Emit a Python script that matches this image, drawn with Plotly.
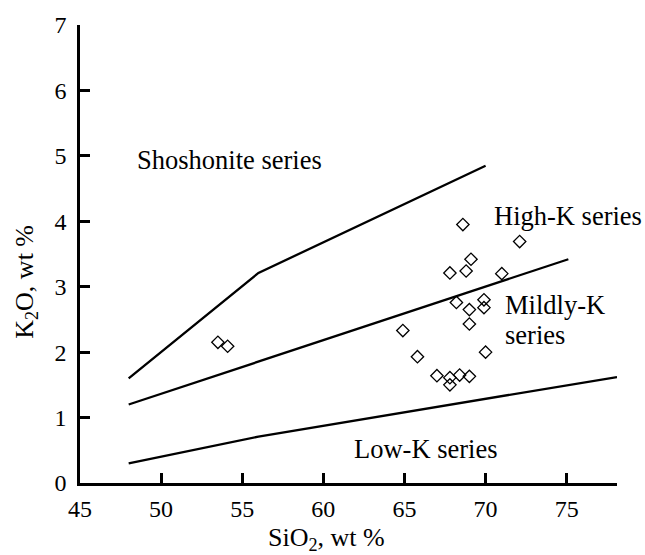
import plotly.graph_objects as go

# Sample data (SiO2, K2O wt %)
sio2 = [53.5, 54.1, 72.1, 69.1, 67.8, 68.8, 71.0, 68.2, 69.9, 69.9, 69.0, 69.0,
        64.9, 65.8, 70.0, 67.0, 67.8, 67.8, 68.4, 69.0, 68.6]
k2o = [2.15, 2.09, 3.69, 3.42, 3.21, 3.24, 3.20, 2.76, 2.80, 2.68, 2.65, 2.43,
       2.33, 1.93, 2.00, 1.64, 1.61, 1.50, 1.65, 1.63, 3.95]

# Boundary lines (Peccerillo & Taylor type)
shosh_x = [48, 56, 70]
shosh_y = [1.6, 3.21, 4.85]
highk_x = [48, 75.1]
highk_y = [1.2, 3.42]
lowk_x = [48, 56, 78.1]
lowk_y = [0.3, 0.71, 1.62]

# Field labels
label_text = ["Shoshonite series", "High-K series", "Mildly-K", "series", "Low-K series"]
label_x = [48.4, 70.4, 71.05, 71.05, 61.75]
label_y = [4.93, 4.08, 2.725, 2.265, 0.52]

x_ticks = [45, 50, 55, 60, 65, 70, 75]
y_ticks = [0, 1, 2, 3, 4, 5, 6, 7]

FONT = "Liberation Serif, serif"

fig = go.Figure()
for xs, ys in [(shosh_x, shosh_y), (highk_x, highk_y), (lowk_x, lowk_y)]:
    fig.add_trace(go.Scatter(x=xs, y=ys, mode="lines",
                             line=dict(color="black", width=2.3),
                             showlegend=False, hoverinfo="skip"))
fig.add_trace(go.Scatter(x=sio2, y=k2o, mode="markers",
                         marker=dict(symbol="diamond-open", size=9.5, color="black",
                                     line=dict(color="black", width=1.3)),
                         showlegend=False))

for t, x, y in zip(label_text, label_x, label_y):
    fig.add_annotation(x=x, y=y, text=t, showarrow=False, xanchor="left",
                       yanchor="middle", font=dict(family=FONT, size=26.5, color="black"))

fig.add_annotation(xref="paper", yref="paper", x=0.459, y=-0.122,
                   text="SiO<sub>2</sub>, wt %", showarrow=False,
                   xanchor="center", yanchor="middle",
                   font=dict(family=FONT, size=26, color="black"))
fig.add_annotation(xref="paper", yref="paper", x=-0.1, y=0.44,
                   text="K<sub>2</sub>O, wt %", showarrow=False, textangle=-90,
                   xanchor="center", yanchor="middle",
                   font=dict(family=FONT, size=26, color="black"))

fig.update_layout(
    width=645, height=555,
    margin=dict(l=80, r=28, t=20, b=72),
    paper_bgcolor="white", plot_bgcolor="white",
    font=dict(family=FONT, size=23, color="black"),
    xaxis=dict(range=[45, 78.1], tickvals=x_ticks, ticks="inside", ticklen=10,
               tickwidth=2.5, tickcolor="black", showline=True, linewidth=2.5,
               linecolor="black", showgrid=False, zeroline=False,
               ticklabelstandoff=2, tickfont=dict(family=FONT, size=24)),
    yaxis=dict(range=[0, 7], tickvals=y_ticks, ticks="inside", ticklen=10,
               tickwidth=2.5, tickcolor="black", showline=True, linewidth=2.5,
               linecolor="black", showgrid=False, zeroline=False,
               ticklabelstandoff=6, tickfont=dict(family=FONT, size=24)),
)

fig.write_html("out.html")
